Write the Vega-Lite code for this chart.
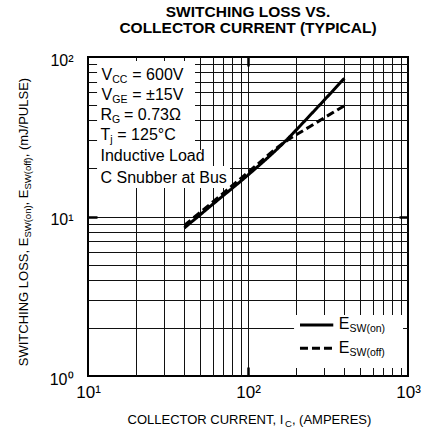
{
  "$schema": "https://vega.github.io/schema/vega-lite/v6.json",
  "width": 320,
  "height": 319,
  "autosize": {"type": "none"},
  "padding": {"left": 88, "top": 57, "right": 17, "bottom": 53},
  "title": {
    "text": ["SWITCHING LOSS VS.", "COLLECTOR CURRENT (TYPICAL)"],
    "font": "Liberation Sans",
    "fontSize": 15.5,
    "fontWeight": "bold",
    "lineHeight": 16.7,
    "anchor": "middle",
    "frame": "group",
    "baseline": "bottom",
    "offset": 0,
    "color": "black"
  },
  "config": {
    "view": {"stroke": "black", "strokeWidth": 2},
    "font": "Liberation Sans",
    "axis": {
      "labelFlush": false,
      "labelOverlap": false,
      "labelBound": false,
      "domain": false,
      "grid": false,
      "titleFont": "Liberation Sans",
      "titleFontWeight": "normal",
      "titleColor": "black",
      "titleFontSize": 13,
      "labelColor": "black",
      "labelFont": "Liberation Sans",
      "labelFontSize": 16,
      "tickColor": "black"
    }
  },
  "resolve": {"axis": {"x": "independent", "y": "independent"}},
  "datasets": {
    "boxes": [
      {"x": 11.39, "x2": 46.65, "y": 94.4, "y2": 26.1},
      {"x": 11.39, "x2": 53.8, "y": 26.1, "y2": 20.7},
      {"x": 11.39, "x2": 77.2, "y": 20.7, "y2": 15.09},
      {"x": 194, "x2": 931, "y": 2.413, "y2": 1.122}
    ],
    "curves": [
      {"I": 40, "E": 8.47, "series": "E_SW(on)"},
      {"I": 60, "E": 11.9, "series": "E_SW(on)"},
      {"I": 100, "E": 18.2, "series": "E_SW(on)"},
      {"I": 166, "E": 28.8, "series": "E_SW(on)"},
      {"I": 250, "E": 44.2, "series": "E_SW(on)"},
      {"I": 400, "E": 73.5, "series": "E_SW(on)"},
      {"I": 40, "E": 8.8, "series": "E_SW(off)"},
      {"I": 60, "E": 12.3, "series": "E_SW(off)"},
      {"I": 100, "E": 18.9, "series": "E_SW(off)"},
      {"I": 166, "E": 28.8, "series": "E_SW(off)"},
      {"I": 250, "E": 37.2, "series": "E_SW(off)"},
      {"I": 400, "E": 49.5, "series": "E_SW(off)"}
    ],
    "legendlines": [
      {"x": 211.3, "x2": 341.2, "y": 2.088, "series": "E_SW(on)"},
      {"x": 211.3, "x2": 341.2, "y": 1.492, "series": "E_SW(off)"}
    ],
    "labels": [
      {"text": "V", "x": 12.14, "y": 71.8},
      {"text": "= 600V", "x": 18.92, "y": 71.8},
      {"text": "V", "x": 12.14, "y": 53.8},
      {"text": "= ±15V", "x": 18.92, "y": 53.8},
      {"text": "R", "x": 11.97, "y": 40.3},
      {"text": "= 0.73Ω", "x": 16.79, "y": 40.3},
      {"text": "T", "x": 11.97, "y": 29.96},
      {"text": "= 125°C", "x": 15.25, "y": 29.96},
      {"text": "Inductive Load", "x": 11.97, "y": 22.13},
      {"text": "C Snubber at Bus", "x": 11.97, "y": 16.3},
      {"text": "E", "x": 369.4, "y": 1.963},
      {"text": "E", "x": 369.4, "y": 1.4}
    ],
    "subs": [
      {"text": "CC", "x": 14.17, "y": 71.8},
      {"text": "GE", "x": 14.17, "y": 53.8},
      {"text": "G", "x": 14.15, "y": 40.3},
      {"text": "j", "x": 13.78, "y": 29.96},
      {"text": "SW(on)", "x": 430.7, "y": 1.963},
      {"text": "SW(off)", "x": 430.7, "y": 1.4}
    ]
  },
  "layer": [
    {
      "data": {"name": "boxes"},
      "mark": {"type": "rect", "fill": "white", "strokeWidth": 0},
      "encoding": {
        "x": {
          "field": "x", "type": "quantitative",
          "scale": {"type": "log", "domain": [10, 1000], "nice": false},
          "axis": {
            "orient": "bottom",
            "values": [20, 30, 40, 50, 60, 70, 80, 90, 100, 200, 300, 400, 500, 600, 700, 800, 900],
            "labels": false, "ticks": false,
            "grid": true, "gridColor": "#111111", "gridWidth": 1, "gridOpacity": 1,
            "title": "COLLECTOR CURRENT, I",
            "titleX": 39, "titleY": 47.3, "titleAngle": 0,
            "titleAlign": "left", "titleBaseline": "alphabetic"
          }
        },
        "x2": {"field": "x2"},
        "y": {
          "field": "y", "type": "quantitative",
          "scale": {"type": "log", "domain": [1, 100], "nice": false},
          "axis": {
            "orient": "left",
            "values": [2, 3, 4, 5, 6, 7, 8, 9, 10, 20, 30, 40, 50, 60, 70, 80, 90],
            "labels": false, "ticks": false,
            "grid": true, "gridColor": "#111111", "gridWidth": 1, "gridOpacity": 1,
            "title": "SWITCHING LOSS, E",
            "titleX": -61, "titleY": 308.7, "titleAngle": 270,
            "titleAlign": "left", "titleBaseline": "alphabetic"
          }
        },
        "y2": {"field": "y2"}
      }
    },
    {
      "data": {"name": "curves"},
      "mark": {"type": "line", "strokeWidth": 3, "color": "black", "interpolate": "monotone", "strokeCap": "butt"},
      "encoding": {
        "x": {
          "field": "I", "type": "quantitative",
          "scale": {"type": "log", "domain": [10, 1000], "nice": false},
          "axis": {
            "orient": "bottom",
            "values": [10, 100, 1000],
            "labels": true,
            "ticks": true, "tickSize": 0, "tickWidth": 0,
            "labelExpr": "datum.value < 50 ? '10¹' : datum.value < 500 ? '10²' : '10³'",
            "labelFontSize": 17,
            "labelPadding": 8,
            "labelAlign": "center",
            "title": "C", "titleFontSize": 9.5,
            "titleX": 196.5, "titleY": 50.3, "titleAngle": 0,
            "titleAlign": "left", "titleBaseline": "alphabetic"
          }
        },
        "y": {
          "field": "E", "type": "quantitative",
          "scale": {"type": "log", "domain": [1, 100], "nice": false},
          "axis": {
            "orient": "left",
            "values": [1, 10, 100],
            "labels": true,
            "ticks": true, "tickSize": 0, "tickWidth": 0,
            "labelExpr": "datum.value < 5 ? '10⁰' : datum.value < 50 ? '10¹' : '10²'",
            "labelFontSize": 16,
            "labelPadding": 15,
            "labelOffset": 3,
            "title": "SW(on)", "titleFontSize": 9.5,
            "titleX": -58, "titleY": 180.1, "titleAngle": 270,
            "titleAlign": "left", "titleBaseline": "alphabetic"
          }
        },
        "strokeDash": {
          "field": "series", "type": "nominal",
          "scale": {"domain": ["E_SW(on)", "E_SW(off)"], "range": [[1, 0], [8, 4]]},
          "legend": null
        }
      }
    },
    {
      "data": {"name": "legendlines"},
      "mark": {"type": "rule", "strokeWidth": 3, "color": "black", "strokeCap": "butt"},
      "encoding": {
        "x": {
          "field": "x", "type": "quantitative",
          "scale": {"type": "log", "domain": [10, 1000], "nice": false},
          "axis": {
            "orient": "top",
            "values": [100],
            "labels": false,
            "ticks": true, "tickSize": -9, "tickWidth": 2.5,
            "title": ", (AMPERES)",
            "titleX": 203.4, "titleY": 366.3, "titleAngle": 0,
            "titleAlign": "left", "titleBaseline": "alphabetic"
          }
        },
        "x2": {"field": "x2"},
        "y": {
          "field": "y", "type": "quantitative",
          "scale": {"type": "log", "domain": [1, 100], "nice": false},
          "axis": {
            "orient": "right",
            "values": [10],
            "labels": false,
            "ticks": true, "tickSize": -9, "tickWidth": 2.5,
            "title": ", E",
            "titleX": -381, "titleY": 147.9, "titleAngle": 270,
            "titleAlign": "left", "titleBaseline": "alphabetic"
          }
        },
        "strokeDash": {
          "field": "series", "type": "nominal",
          "scale": {"domain": ["E_SW(on)", "E_SW(off)"], "range": [[1, 0], [8, 4]]},
          "legend": null
        }
      }
    },
    {
      "data": {"name": "labels"},
      "mark": {"type": "text", "align": "left", "baseline": "alphabetic", "fontSize": 16, "font": "Liberation Sans", "color": "black"},
      "encoding": {
        "x": {
          "field": "x", "type": "quantitative",
          "scale": {"type": "log", "domain": [10, 1000], "nice": false},
          "axis": {
            "orient": "bottom",
            "values": [100],
            "labels": false,
            "ticks": true, "tickSize": -9, "tickWidth": 2.5,
            "title": null
          }
        },
        "y": {
          "field": "y", "type": "quantitative",
          "scale": {"type": "log", "domain": [1, 100], "nice": false},
          "axis": {
            "orient": "left",
            "values": [10],
            "labels": false,
            "ticks": true, "tickSize": -9, "tickWidth": 2.5,
            "title": "SW(off)", "titleFontSize": 9.5,
            "titleX": -58, "titleY": 132.0, "titleAngle": 270,
            "titleAlign": "left", "titleBaseline": "alphabetic"
          }
        },
        "text": {"field": "text"}
      }
    },
    {
      "data": {"name": "subs"},
      "mark": {"type": "text", "align": "left", "baseline": "alphabetic", "fontSize": 10.5, "dy": 3, "font": "Liberation Sans", "color": "black"},
      "encoding": {
        "x": {
          "field": "x", "type": "quantitative",
          "scale": {"type": "log", "domain": [10, 1000], "nice": false},
          "axis": null
        },
        "y": {
          "field": "y", "type": "quantitative",
          "scale": {"type": "log", "domain": [1, 100], "nice": false},
          "axis": {
            "orient": "left",
            "values": [10],
            "labels": false, "ticks": false,
            "title": ", (mJ/PULSE)",
            "titleX": -61, "titleY": 99.8, "titleAngle": 270,
            "titleAlign": "left", "titleBaseline": "alphabetic"
          }
        },
        "text": {"field": "text"}
      }
    }
  ]
}
